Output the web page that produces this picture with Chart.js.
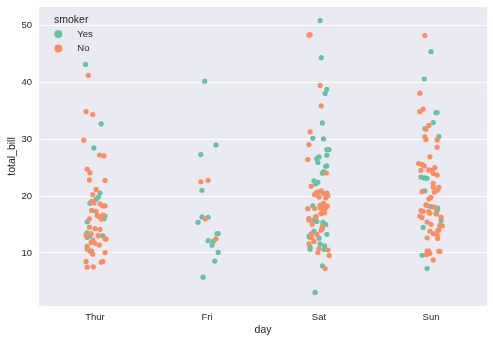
<!DOCTYPE html>
<html><head><meta charset="utf-8">
<script src="https://cdn.jsdelivr.net/npm/chart.js@4/dist/chart.umd.min.js"></script>
<style>html,body{margin:0;padding:0;background:#fff}canvas{display:block}</style>
</head><body>
<canvas id="c" width="493" height="343"></canvas>
<script>
// categories
const days = ["Thur", "Fri", "Sat", "Sun"];
const smokerLevels = ["Yes", "No"];
const yTicks = [10, 20, 30, 40, 50];

// total_bill values by day and smoker, with the horizontal jitter (category units)
const thurYes = [19.44, 32.68, 16.00, 19.81, 28.44, 15.48, 16.58, 10.34, 43.11, 13.00, 13.51, 18.71, 12.74, 13.00, 16.40, 20.53, 16.47];
const thurYesJitter = [0.01, 0.055, 0.08, 0.03, -0.01, -0.07, 0.02, -0.03, -0.085, 0.07, -0.07, -0.045, -0.07, -0.045, 0.055, 0.045, 0.09];
const thurNo = [27.20, 22.76, 17.29, 16.66, 10.07, 15.98, 34.83, 13.03, 18.28, 24.71, 21.16, 10.65, 12.43, 24.08, 11.69, 13.42, 14.26, 15.95, 12.48, 29.80, 8.52, 14.52, 11.38, 22.82, 19.08, 20.27, 11.17, 12.26, 18.26, 8.51, 10.33, 14.15, 13.16, 17.47, 34.30, 41.19, 27.05, 16.43, 8.35, 18.64, 11.87, 9.78, 7.51, 7.56, 18.78];
const thurNoJitter = [0.04, 0.09, 0.01, 0.07, 0.09, -0.05, -0.08, 0.03, 0.09, -0.07, 0.01, -0.07, 0.10, -0.045, 0.0, -0.035, 0.0, 0.055, 0.09, -0.10, -0.08, -0.05, 0.04, -0.05, -0.03, -0.02, -0.07, -0.02, 0.07, 0.07, -0.045, 0.045, -0.08, -0.03, -0.02, -0.06, 0.08, 0.03, 0.055, 0.045, -0.035, -0.02, -0.07, -0.015, -0.01];

const friYes = [28.97, 5.75, 16.32, 40.17, 27.28, 12.03, 21.01, 11.35, 15.38, 12.16, 13.42, 8.58, 13.42, 16.27, 10.09];
const friYesJitter = [0.08, -0.035, -0.045, -0.02, -0.055, 0.055, -0.045, 0.045, -0.08, 0.01, 0.09, 0.07, 0.10, 0.01, 0.10];
const friNo = [22.49, 22.75, 12.46, 15.98];
const friNoJitter = [-0.055, 0.01, 0.08, -0.015];

const satYes = [38.01, 11.24, 20.29, 13.81, 11.02, 18.29, 3.07, 15.01, 26.86, 25.28, 17.92, 44.30, 22.42, 15.36, 20.49, 25.21, 14.31, 10.59, 10.63, 50.81, 15.81, 26.59, 38.73, 24.27, 12.76, 30.06, 25.89, 13.27, 28.17, 12.90, 28.15, 11.59, 7.74, 30.14, 22.12, 24.01, 15.69, 15.53, 12.60, 32.83, 27.18, 22.67];
const satYesJitter = [0.055, 0.05, -0.03, -0.045, -0.08, -0.055, -0.035, 0.06, 0.0, 0.07, 0.06, 0.02, -0.01, 0.035, 0.07, 0.06, 0.03, 0.045, -0.08, 0.01, -0.045, -0.02, 0.07, 0.04, -0.08, 0.04, -0.01, 0.07, 0.07, -0.09, 0.09, 0.01, 0.03, -0.055, -0.03, 0.03, -0.045, -0.02, 0.0, 0.03, 0.07, -0.045];
const satNo = [20.65, 17.92, 20.29, 15.77, 39.42, 19.82, 17.81, 13.37, 12.69, 21.70, 19.65, 9.55, 18.35, 15.06, 20.69, 17.78, 24.06, 16.31, 16.93, 18.69, 31.27, 16.04, 26.41, 48.27, 17.59, 20.08, 16.45, 20.23, 12.02, 17.07, 14.73, 10.51, 20.92, 18.24, 14.00, 7.25, 20.45, 13.28, 11.61, 10.77, 10.07, 35.83, 29.03, 17.82, 48.33];
const satNoJitter = [-0.02, 0.01, 0.06, -0.09, 0.01, 0.0, -0.04, -0.07, -0.065, -0.07, 0.06, 0.09, 0.01, -0.06, -0.01, -0.10, 0.065, -0.03, 0.02, 0.04, -0.08, -0.09, -0.10, -0.09, 0.035, 0.08, -0.025, -0.04, -0.045, 0.05, 0.03, 0.08, 0.02, 0.075, 0.02, 0.055, 0.04, -0.02, -0.09, 0.0, -0.01, 0.02, -0.09, 0.05, -0.08];

const sunYes = [17.51, 7.25, 31.85, 16.82, 32.90, 17.89, 14.48, 9.60, 34.63, 34.65, 23.33, 45.35, 23.17, 40.55, 20.90, 30.46, 18.15, 23.10, 15.69];
const sunYesJitter = [0.055, -0.035, -0.055, 0.05, 0.02, 0.06, -0.07, -0.08, 0.045, 0.055, -0.09, 0.0, -0.06, -0.06, -0.055, 0.07, 0.0, -0.035, 0.09];
const sunNo = [16.99, 10.34, 21.01, 23.68, 24.59, 25.29, 8.77, 26.88, 15.04, 14.78, 10.27, 35.26, 15.42, 18.43, 14.83, 21.58, 10.33, 16.29, 16.97, 17.46, 13.94, 9.68, 30.40, 18.29, 22.23, 32.40, 28.55, 18.04, 12.54, 10.29, 34.81, 9.94, 25.56, 19.49, 38.07, 23.95, 25.71, 17.31, 29.93, 14.07, 13.13, 17.26, 24.55, 19.77, 29.85, 48.17, 25.00, 13.39, 16.49, 21.50, 12.66, 16.21, 13.81, 24.52, 20.76, 31.71, 20.69];
const sunNoJitter = [-0.01, -0.035, 0.055, 0.055, -0.02, -0.06, 0.02, -0.01, 0.0, 0.10, 0.08, -0.07, -0.035, -0.045, 0.08, 0.02, -0.02, 0.09, 0.045, -0.09, 0.06, -0.04, -0.055, -0.03, 0.02, -0.02, 0.055, 0.03, 0.06, 0.07, -0.10, -0.01, -0.08, -0.02, -0.10, 0.02, -0.11, -0.07, -0.045, 0.07, 0.055, -0.02, 0.01, 0.0, 0.055, -0.055, 0.035, 0.02, -0.10, 0.07, -0.035, -0.08, -0.01, -0.09, -0.08, -0.045, 0.03];

const yesByDay = [[thurYes, thurYesJitter], [friYes, friYesJitter], [satYes, satYesJitter], [sunYes, sunYesJitter]];
const noByDay = [[thurNo, thurNoJitter], [friNo, friNoJitter], [satNo, satNoJitter], [sunNo, sunNoJitter]];

function toPoints(groups) {
  const pts = [];
  groups.forEach(([vals, jit], i) => vals.forEach((v, k) => pts.push({x: i + jit[k], y: v})));
  return pts;
}

const COLORS = {Yes: "#66c2a5", No: "#fc8d62"};
const TEXT = "#262626";
const FONT = "'Liberation Sans', Arial, sans-serif";

const decor = {
  id: "decor",
  beforeDraw(chart) {
    const {ctx, chartArea: a} = chart;
    ctx.save();
    ctx.fillStyle = "#ffffff";
    ctx.fillRect(0, 0, chart.width, chart.height);
    ctx.fillStyle = "#EAEAF2";
    ctx.fillRect(a.left, a.top, a.right - a.left, a.bottom - a.top);
    ctx.restore();
  },
  afterDraw(chart) {
    const {ctx, chartArea: a} = chart;
    ctx.save();
    ctx.fillStyle = TEXT;
    ctx.font = "10.5px " + FONT;
    ctx.textAlign = "center";
    ctx.textBaseline = "middle";
    ctx.fillText("day", (a.left + a.right) / 2, 330);
    ctx.translate(12, (a.top + a.bottom) / 2);
    ctx.rotate(-Math.PI / 2);
    ctx.fillText("total_bill", 0, 0);
    ctx.restore();

    // legend
    ctx.save();
    ctx.fillStyle = TEXT;
    ctx.textAlign = "left";
    ctx.textBaseline = "middle";
    ctx.font = "10.5px " + FONT;
    ctx.fillText("smoker", a.left + 15, a.top + 13);
    ctx.font = "9.5px " + FONT;
    smokerLevels.forEach((s, i) => {
      const cy = a.top + 27 + i * 14.6;
      ctx.fillStyle = COLORS[s];
      ctx.beginPath();
      ctx.arc(a.left + 19.3, cy, 4, 0, Math.PI * 2);
      ctx.fill();
      ctx.fillStyle = TEXT;
      ctx.fillText(s, a.left + 38.3, cy);
    });
    ctx.restore();
  }
};

new Chart(document.getElementById("c"), {
  type: "scatter",
  data: {
    datasets: [
      {label: "Yes", data: toPoints(yesByDay), backgroundColor: COLORS.Yes, borderWidth: 0, pointRadius: 2.6, order: 1},
      {label: "No", data: toPoints(noByDay), backgroundColor: COLORS.No, borderWidth: 0, pointRadius: 2.6, order: 0}
    ]
  },
  options: {
    responsive: false,
    animation: false,
    events: [],
    layout: {padding: {left: 0, top: 7, right: 6, bottom: 0}},
    plugins: {legend: {display: false}, tooltip: {enabled: false}},
    scales: {
      x: {
        type: "linear", min: -0.5, max: 3.5,
        afterBuildTicks: s => { s.ticks = days.map((d, i) => ({value: i})); },
        afterFit: s => { s.height = 37; s.paddingLeft = 0; s.paddingRight = 0; },
        ticks: {callback: v => days[v], color: TEXT, font: {family: FONT, size: 9.5}, padding: 6, maxRotation: 0},
        grid: {display: false, drawTicks: false},
        border: {display: false}
      },
      y: {
        type: "linear", min: 0.683, max: 53.197,
        afterBuildTicks: s => { s.ticks = yTicks.map(v => ({value: v})); },
        afterFit: s => { s.width = 39; s.paddingTop = 0; s.paddingBottom = 0; },
        ticks: {color: TEXT, font: {family: FONT, size: 9.5}, padding: 7},
        grid: {color: "#ffffff", lineWidth: 1, drawTicks: false},
        border: {display: false}
      }
    }
  },
  plugins: [decor]
});
</script>
</body></html>
